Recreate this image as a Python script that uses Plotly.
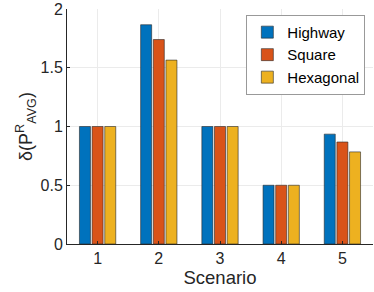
import plotly.graph_objects as go

scenarios = ['1', '2', '3', '4', '5']
highway = [1.0, 1.866, 1.0, 0.5, 0.935]
square = [1.0, 1.74, 1.0, 0.5, 0.868]
hexagonal = [1.0, 1.565, 1.0, 0.5, 0.784]
y_ticks = [0, 0.5, 1, 1.5, 2]
y_labels = ['0', '0.5', '1', '1.5', '2']

series = [
    ('Highway', highway, '#0072BD'),
    ('Square', square, '#D95319'),
    ('Hexagonal', hexagonal, '#EDB120'),
]

fig = go.Figure()
for name, vals, color in series:
    fig.add_trace(go.Bar(
        x=scenarios, y=vals, name=name,
        marker=dict(color=color, line=dict(color='rgba(40,40,40,0.75)', width=0.8)),
    ))

font = 'Liberation Sans, Arial, sans-serif'
fig.update_layout(
    width=374, height=292,
    margin=dict(l=67, r=1, t=6, b=48),
    paper_bgcolor='white', plot_bgcolor='white',
    barmode='group', bargap=0.38, bargroupgap=0.13,
    font=dict(family=font, size=16, color='#262626'),
    showlegend=True,
    legend=dict(
        x=0.975, y=0.975, xanchor='right', yanchor='top',
        bgcolor='white', bordercolor='#999999', borderwidth=1,
        font=dict(size=15, color='#000000'),
        tracegroupgap=0, itemwidth=30,
    ),
    xaxis=dict(
        title=dict(text='Scenario', font=dict(size=18.5), standoff=4),
        showgrid=True, gridcolor='#ebebeb', gridwidth=1,
        showline=True, linecolor='#262626', linewidth=1,
        ticks='inside', ticklen=3, tickcolor='#262626',
        tickfont=dict(size=16),
    ),
    yaxis=dict(
        title=dict(text='δ(P<sup>R</sup><sub>AVG</sub>)', font=dict(size=18), standoff=3),
        range=[0, 2], tickvals=y_ticks, ticktext=y_labels,
        ticklabeloverflow='allow',
        showgrid=True, gridcolor='#ebebeb', gridwidth=1,
        showline=True, linecolor='#262626', linewidth=1,
        ticks='inside', ticklen=3, tickcolor='#262626',
        zeroline=False, tickfont=dict(size=16),
    ),
)

fig.write_html("out.html", config={'displayModeBar': False},
               post_script="document.body.style.margin='0';")
